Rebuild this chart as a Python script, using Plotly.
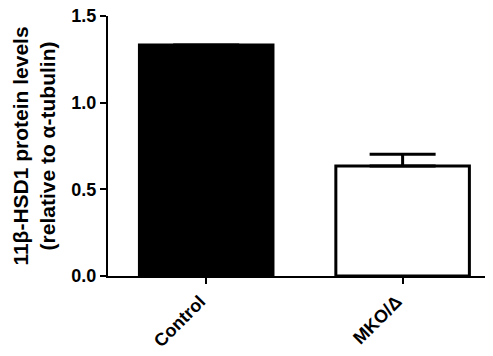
import plotly.graph_objects as go

categories = ["Control", "MKO/Δ"]
values = [1.333, 0.634]
errors = [0.0, 0.068]
fill_colors = ["black", "white"]
y_ticks = [0.0, 0.5, 1.0, 1.5]
y_tick_labels = ["0.0", "0.5", "1.0", "1.5"]

font_family = "Liberation Sans, Arial, sans-serif"

fig = go.Figure()
fig.add_trace(go.Bar(
    x=[0, 1],
    y=values,
    width=0.68,
    marker=dict(color=fill_colors, line=dict(color="black", width=3)),
    error_y=dict(type="data", array=errors, symmetric=False, arrayminus=[0, 0],
                 color="black", thickness=3, width=33, visible=True),
))

fig.update_layout(
    width=493, height=356,
    margin=dict(l=100, r=10, t=8, b=88),
    plot_bgcolor="white", paper_bgcolor="white",
    showlegend=False,
    font=dict(family=font_family, size=18, color="black"),
    xaxis=dict(
        range=[-0.5, 1.45],
        tickmode="array", tickvals=[0, 1], ticktext=categories,
        tickangle=-45,
        ticks="outside", ticklen=6, tickwidth=2, tickcolor="black",
        showline=True, linecolor="black", linewidth=2,
        showgrid=False, zeroline=False,
        ticklabelshift=-6, ticklabelstandoff=0,
        ticklabeloverflow="allow", automargin=False,
        tickfont=dict(family=font_family, size=18, color="black", weight="bold"),
    ),
    yaxis=dict(
        range=[0, 1.5],
        tickmode="array", tickvals=y_ticks, ticktext=y_tick_labels,
        ticks="outside", ticklen=6, tickwidth=2, tickcolor="black",
        showline=True, linecolor="black", linewidth=2,
        showgrid=False, zeroline=False,
        ticklabeloverflow="allow", automargin=False,
        tickfont=dict(family=font_family, size=18, color="black", weight="bold"),
        title=dict(text="11β-HSD1 protein levels<br>(relative to α-tubulin)",
                   font=dict(family=font_family, size=21, color="black", weight="bold"),
                   standoff=10),
    ),
)

fig.write_html("out.html")
